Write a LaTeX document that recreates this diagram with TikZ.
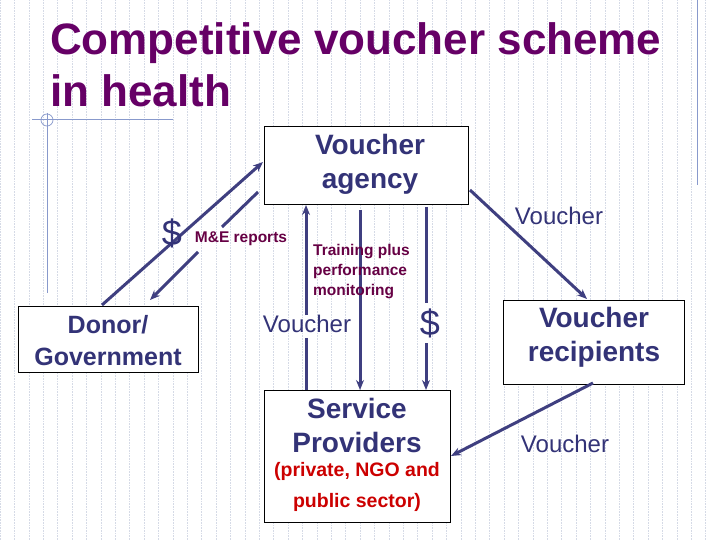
\documentclass[tikz,border=0pt]{standalone}
\usepackage{fontspec}
\setmainfont{Liberation Sans}
\usetikzlibrary{arrows.meta}
\definecolor{ttl}{HTML}{660066}
\definecolor{navy}{HTML}{333377}
\definecolor{arr}{HTML}{3F3F80}
\definecolor{mar}{HTML}{660044}
\definecolor{rd}{HTML}{CC0000}
\definecolor{gridc}{HTML}{D5DAE6}
\definecolor{deco}{HTML}{8899CC}
\begin{document}
\begin{tikzpicture}[x=1pt,y=-1pt,
  box/.style={draw=black,fill=white,line width=0.9pt,inner sep=0pt},
  btxt/.style={font=\fontsize{28}{34}\selectfont\bfseries,text=navy,align=center},
  lab/.style={font=\fontsize{24}{28}\selectfont,text=navy},
  small/.style={font=\fontsize{15.5}{20}\selectfont\bfseries,text=mar,align=left},
  ar/.style={draw=arr,line width=3pt,-{Stealth[length=10pt,width=8pt]}},
  ln/.style={draw=arr,line width=3pt}]
\useasboundingbox (0,0) rectangle (720,540);
\fill[white] (0,0) rectangle (720,540);
\draw[gridc,densely dotted,line width=0.6pt,step=14.4] (0,0) grid (720,540);
% decoration
\draw[deco,line width=0.7pt] (32,119) -- (173,119) (47,113) -- (47,293) (697,0) -- (697,185);
\draw[deco,line width=0.7pt] (47,120) circle (6);
% title
\node[anchor=north west,text=ttl,font=\fontsize{44}{52}\selectfont\bfseries,align=left,inner sep=0pt] (title) at (50,22) {Competitive voucher scheme\\in health};
% boxes
\node[box,minimum width=204,minimum height=78] (ag) at (366,165) {};
\node[btxt] at (370,164) {Voucher\\agency};
\node[box,minimum width=180,minimum height=66] (dg) at (108,339) {};
\node[btxt,font=\fontsize{25}{32}\selectfont\bfseries] at (108,341) {Donor/\\Government};
\node[box,minimum width=181,minimum height=84] (vr) at (594,342) {};
\node[btxt] at (594,337) {Voucher\\recipients};
\node[box,minimum width=186,minimum height=132] (sp) at (357,456) {};
\node[btxt,anchor=north] at (357,395) {Service\\Providers};
\node[font=\fontsize{19.5}{31}\selectfont\bfseries,text=rd,align=center,anchor=north] (spt) at (357,459) {(private, NGO and\\public sector)};
% arrows
\coordinate (d1) at (102,305); \coordinate (a1) at (263,162);
\draw[ar] (d1) -- (a1);
\coordinate (m0) at (258,192); \coordinate (m1) at (222,227);
\coordinate (m2) at (198,252); \coordinate (m3) at (150,300);
\draw[ln] (m0) -- (m1); \draw[ar] (m2) -- (m3);
\node[font=\fontsize{36}{36}\selectfont,text=navy] (dol1) at (172,233) {\$};
\node[small] (me) at (241,239) {M\&E reports};
% voucher up
\coordinate (v0) at (306,390); \coordinate (v1) at (306,338);
\coordinate (v2) at (306,315); \coordinate (v3) at (306,205);
\draw[ln] (v0) -- (v1); \draw[ar] (v2) -- (v3);
\node[lab] (vl) at (307,324) {Voucher};
% training down
\coordinate (t0) at (360,210); \coordinate (t1) at (360,390);
\draw[ar] (t0) -- (t1);
\node[small,anchor=north west,inner sep=0pt] (tr) at (313,244) {Training plus\\performance\\monitoring};
% $ down
\coordinate (s0) at (426,207); \coordinate (s1) at (426,303);
\coordinate (s2) at (426,343); \coordinate (s3) at (426,390);
\draw[ln] (s0) -- (s1); \draw[ar] (s2) -- (s3);
\node[font=\fontsize{36}{36}\selectfont,text=navy] (dol2) at (430,323) {\$};
% agency -> recipients
\coordinate (r0) at (470,190); \coordinate (r1) at (587,299);
\draw[ar] (r0) -- (r1);
\node[lab] (vl2) at (559,216) {Voucher};
% recipients -> providers
\coordinate (p0) at (593,383); \coordinate (p1) at (451,456);
\draw[ar] (p0) -- (p1);
\node[lab] (vl3) at (565,444) {Voucher};
\end{tikzpicture}
\end{document}
